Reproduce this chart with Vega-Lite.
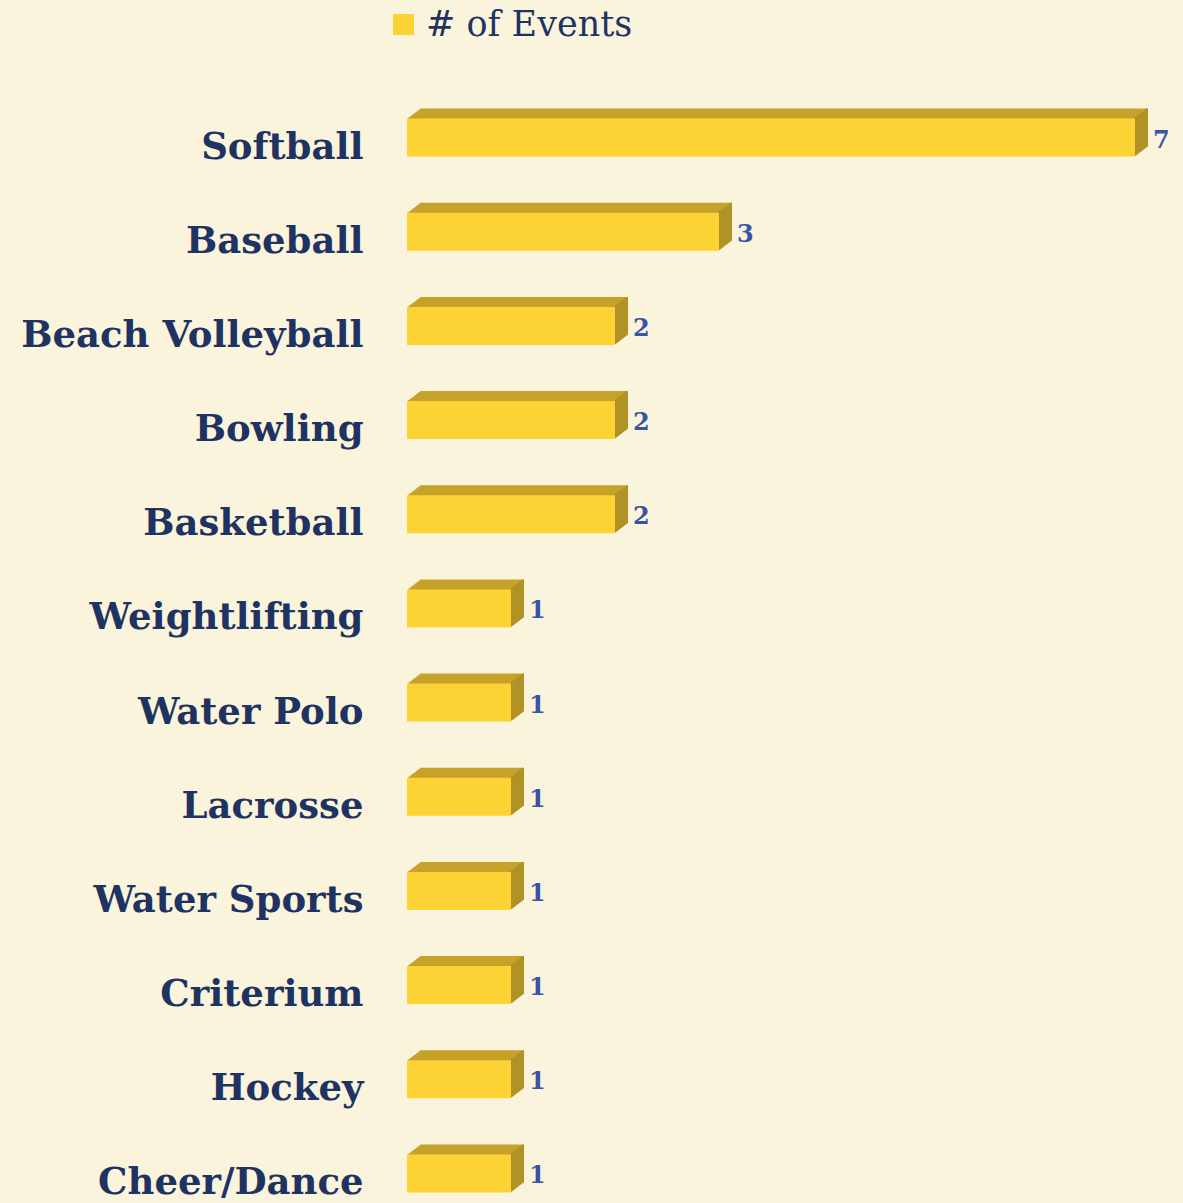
{
  "$schema": "https://vega.github.io/schema/vega-lite/v6.json",
  "autosize": "none",
  "width": 728,
  "height": 1083,
  "padding": {"left": 407, "top": 114, "right": 48, "bottom": 6},
  "background": "#FAF4DC",
  "config": {"view": {"stroke": null}},
  "data": {"values": [
    {"sport": "Softball", "events": 7},
    {"sport": "Baseball", "events": 3},
    {"sport": "Beach Volleyball", "events": 2},
    {"sport": "Bowling", "events": 2},
    {"sport": "Basketball", "events": 2},
    {"sport": "Weightlifting", "events": 1},
    {"sport": "Water Polo", "events": 1},
    {"sport": "Lacrosse", "events": 1},
    {"sport": "Water Sports", "events": 1},
    {"sport": "Criterium", "events": 1},
    {"sport": "Hockey", "events": 1},
    {"sport": "Cheer/Dance", "events": 1}
  ]},
  "encoding": {
    "y": {"field": "sport", "type": "nominal", "sort": null,
      "scale": {"paddingInner": 0.5, "paddingOuter": 0},
      "axis": {"domain": false, "ticks": false, "title": null, "labelFont": "DejaVu Serif", "labelFontWeight": "bold", "labelFontSize": 37, "labelColor": "#1F3363", "labelPadding": 44, "labelOffset": 10, "labelLimit": 500}},
    "x": {"field": "events", "type": "quantitative", "scale": {"domain": [0, 7], "nice": false}, "axis": null}
  },
  "layer": [
    {"mark": {"type": "bar", "color": "#C6A22B", "size": 38, "xOffset": 13, "x2Offset": 13, "yOffset": -10, "y2Offset": -10}},
    {"mark": {"type": "tick", "orient": "vertical", "color": "#A48A22", "size": 38, "thickness": 2, "xOffset": 12, "yOffset": -10}},
    {"mark": {"type": "bar", "color": "#C6A22B", "size": 38, "xOffset": 11.7, "x2Offset": 11.7, "yOffset": -9, "y2Offset": -9}},
    {"mark": {"type": "tick", "orient": "vertical", "color": "#A48A22", "size": 38, "thickness": 2, "xOffset": 10.7, "yOffset": -9}},
    {"mark": {"type": "bar", "color": "#C6A22B", "size": 38, "xOffset": 10.4, "x2Offset": 10.4, "yOffset": -8, "y2Offset": -8}},
    {"mark": {"type": "tick", "orient": "vertical", "color": "#A48A22", "size": 38, "thickness": 2, "xOffset": 9.4, "yOffset": -8}},
    {"mark": {"type": "bar", "color": "#C6A22B", "size": 38, "xOffset": 9.1, "x2Offset": 9.1, "yOffset": -7, "y2Offset": -7}},
    {"mark": {"type": "tick", "orient": "vertical", "color": "#A48A22", "size": 38, "thickness": 2, "xOffset": 8.1, "yOffset": -7}},
    {"mark": {"type": "bar", "color": "#C6A22B", "size": 38, "xOffset": 7.8, "x2Offset": 7.8, "yOffset": -6, "y2Offset": -6}},
    {"mark": {"type": "tick", "orient": "vertical", "color": "#A48A22", "size": 38, "thickness": 2, "xOffset": 6.8, "yOffset": -6}},
    {"mark": {"type": "bar", "color": "#C6A22B", "size": 38, "xOffset": 6.5, "x2Offset": 6.5, "yOffset": -5, "y2Offset": -5}},
    {"mark": {"type": "tick", "orient": "vertical", "color": "#A48A22", "size": 38, "thickness": 2, "xOffset": 5.5, "yOffset": -5}},
    {"mark": {"type": "bar", "color": "#C6A22B", "size": 38, "xOffset": 5.2, "x2Offset": 5.2, "yOffset": -4, "y2Offset": -4}},
    {"mark": {"type": "tick", "orient": "vertical", "color": "#A48A22", "size": 38, "thickness": 2, "xOffset": 4.2, "yOffset": -4}},
    {"mark": {"type": "bar", "color": "#C6A22B", "size": 38, "xOffset": 3.9, "x2Offset": 3.9, "yOffset": -3, "y2Offset": -3}},
    {"mark": {"type": "tick", "orient": "vertical", "color": "#A48A22", "size": 38, "thickness": 2, "xOffset": 2.9, "yOffset": -3}},
    {"mark": {"type": "bar", "color": "#C6A22B", "size": 38, "xOffset": 2.6, "x2Offset": 2.6, "yOffset": -2, "y2Offset": -2}},
    {"mark": {"type": "tick", "orient": "vertical", "color": "#A48A22", "size": 38, "thickness": 2, "xOffset": 1.6, "yOffset": -2}},
    {"mark": {"type": "bar", "color": "#C6A22B", "size": 38, "xOffset": 1.3, "x2Offset": 1.3, "yOffset": -1, "y2Offset": -1}},
    {"mark": {"type": "tick", "orient": "vertical", "color": "#A48A22", "size": 38, "thickness": 2, "xOffset": 0.3, "yOffset": -1}},
    {"mark": {"type": "bar", "size": 38},
      "encoding": {"color": {"datum": "# of Events", "type": "nominal",
        "scale": {"range": ["#FCD235"]},
        "legend": {"title": null, "orient": "none", "legendX": -21, "legendY": -107, "symbolType": "square", "symbolSize": 441, "symbolStrokeWidth": 0, "labelFont": "DejaVu Serif", "labelFontSize": 35, "labelColor": "#1F3363", "labelOffset": 5, "labelLimit": 500}}}},
    {"mark": {"type": "text", "align": "left", "baseline": "middle", "dx": 18, "dy": 3, "font": "DejaVu Serif", "fontWeight": "bold", "fontSize": 24, "color": "#3A54A5"},
      "encoding": {"text": {"field": "events", "type": "quantitative"}}}
  ]
}
